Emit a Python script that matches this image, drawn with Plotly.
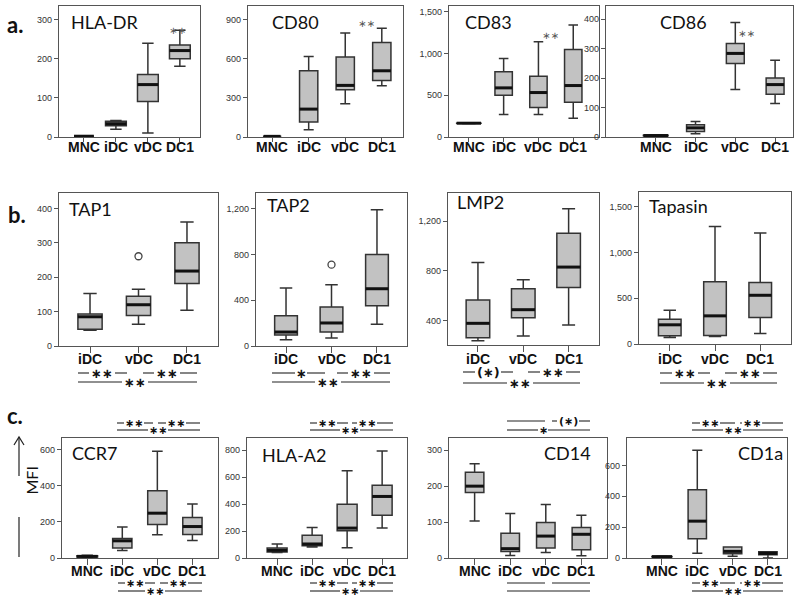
import plotly.graph_objects as go

# ---------------- data ----------------
CATS_4 = ["MNC", "iDC", "vDC", "DC1"]
CATS_3 = ["iDC", "vDC", "DC1"]
PANEL_NAMES = ["HLA-DR", "CD80", "CD83", "CD86",
               "TAP1", "TAP2", "LMP2", "Tapasin",
               "CCR7", "HLA-A2", "CD14", "CD1a"]

# each row: [lower whisker, Q1, median, Q3, upper whisker] per category
HLA_DR = [[1, 2, 2, 2, 3], [20, 29, 34, 40, 42], [10, 91, 134, 160, 240], [181, 200, 221, 235, 273]]
CD80 = [[3, 4, 5, 6, 7], [56, 115, 214, 508, 618], [255, 362, 396, 613, 797], [393, 434, 508, 725, 835]]
CD83 = [[163, 164, 165, 166, 167], [268, 500, 588, 780, 940], [268, 352, 532, 728, 1140], [224, 416, 616, 1048, 1340]]
CD86 = [[3, 4, 5, 6, 7], [11, 19, 31, 42, 53], [161, 250, 284, 318, 389], [114, 145, 178, 200, 261]]
TAP1 = [[46, 49, 85, 93, 153], [63, 89, 120, 145, 165], [104, 182, 218, 300, 361]]
TAP2 = [[55, 96, 122, 265, 506], [70, 122, 201, 340, 535], [189, 352, 500, 800, 1190]]
LMP2 = [[236, 260, 376, 564, 867], [274, 421, 486, 655, 728], [362, 666, 830, 1103, 1300]]
TAPASIN = [[72, 91, 210, 272, 370], [83, 94, 308, 681, 1286], [116, 290, 533, 674, 1214]]
CCR7 = [[2, 6, 9, 12, 15], [42, 55, 95, 108, 171], [128, 185, 248, 372, 591], [97, 130, 174, 224, 299]]
HLA_A2 = [[40, 44, 57, 74, 104], [81, 91, 104, 168, 227], [77, 202, 222, 400, 647], [222, 318, 457, 541, 795]]
CD14 = [[103, 182, 200, 239, 262], [7, 18, 26, 69, 124], [15, 28, 61, 99, 149], [6, 23, 66, 85, 119]]
CD1A = [[5, 8, 9, 10, 12], [30, 125, 239, 443, 699], [11, 28, 43, 71, 71], [0, 21, 30, 41, 41]]

TAP1_OUTLIERS = [None, 261, None]
TAP2_OUTLIERS = [None, 710, None]

STATS = [HLA_DR, CD80, CD83, CD86, TAP1, TAP2, LMP2, TAPASIN, CCR7, HLA_A2, CD14, CD1A]
CATS = [CATS_4] * 4 + [CATS_3] * 4 + [CATS_4] * 4
OUTLIERS = {4: TAP1_OUTLIERS, 5: TAP2_OUTLIERS}

# ---------------- layout / style ----------------
W, H = 800, 602


def px(x):
    return x / W


def py(y):
    return 1 - y / H


GEOM = [(59, 200, 6, 137), (248, 403, 6, 137), (449, 599, 6, 137), (606, 793, 6, 137),
        (59, 218, 193, 346), (256, 407, 193, 346), (448, 599, 193, 345), (639, 791, 192, 344),
        (62, 218, 438, 558), (247, 407, 438, 558), (449, 607, 438, 558), (627, 787, 438, 558)]
XRANGES = [(-0.78, 3.63), (-0.66, 3.58), (-0.57, 3.74), (-1.25, 3.45),
           (-0.64, 2.64), (-0.66, 2.66), (-0.66, 2.67), (-0.68, 2.68),
           (-0.72, 3.73), (-0.86, 3.71), (-0.72, 3.72), (-0.99, 3.54)]
YRANGES = [(0, 335), (0, 1005), (0, 1568), (0, 445),
           (0, 445), (0, 1336), (201, 1428), (0, 1663),
           (0, 664), (0, 891), (0, 334), (0, 778)]
DTICKS = [100, 300, 500, 100, 100, 400, 400, 500, 200, 200, 100, 200]
BOXW = [0.65, 0.5, 0.5, 0.45, 0.5, 0.5, 0.52, 0.5, 0.55, 0.57, 0.52, 0.52]
MNCW = [0.62, 0.46, 0.7, 0.62, None, None, None, None, 0.59, None, None, 0.57]
XTICKLEN = [4] * 4 + [6] * 8
LABEL_Y = [147] * 4 + [359] * 4 + [571] * 4
TITLE_POS = [(69, 22, "left"), (270, 22, "left"), (463, 22, "left"), (658, 22, "left"),
             (67, 209, "left"), (265, 205, "left"), (455, 202, "left"), (647, 206, "left"),
             (70, 453, "left"), (260, 455, "left"), (593, 453, "right"), (785, 453, "right")]

FRAME = "#555555"
BOXLINE = "#333333"
FILL = "#c2c2c2"
TITLE_FONT = dict(family="Lato", size=18, color="#111111")
CAT_FONT = dict(family="Liberation Sans", size=14, color="#111111", weight="bold")
STAR = "DejaVu Sans"

fig = go.Figure()
layout = dict(width=W, height=H, margin=dict(l=0, r=0, t=0, b=0),
              paper_bgcolor="white", plot_bgcolor="white", showlegend=False)
annotations = []
shapes = []

for k in range(12):
    n = k + 1
    xa, ya = ("x%d" % n if n > 1 else "x"), ("y%d" % n if n > 1 else "y")
    x0, x1, y0, y1 = GEOM[k]
    cats = CATS[k]
    idx = list(range(len(cats)))
    layout["xaxis%d" % n if n > 1 else "xaxis"] = dict(
        domain=[px(x0), px(x1)], anchor=ya, range=list(XRANGES[k]),
        tickvals=idx, ticktext=cats, showticklabels=False, showgrid=False, zeroline=False,
        showline=True, mirror=True, linecolor=FRAME, linewidth=1.3,
        ticks="outside", ticklen=XTICKLEN[k], tickcolor=FRAME, tickwidth=1,
        automargin=False, fixedrange=True)
    layout["yaxis%d" % n if n > 1 else "yaxis"] = dict(
        domain=[py(y1), py(y0)], anchor=xa, range=list(YRANGES[k]),
        tick0=0, dtick=DTICKS[k], tickformat=",", showgrid=False, zeroline=False,
        showline=True, mirror=True, linecolor=FRAME, linewidth=1.3,
        ticks="outside", ticklen=4, tickcolor=FRAME, tickwidth=1,
        tickfont=dict(family="Liberation Sans", size=9, color="#333333"),
        automargin=False, fixedrange=True)

    # category labels placed close under the frame, at the category positions
    for i, c in enumerate(cats):
        annotations.append(dict(text=c, x=i, xref=xa, y=py(LABEL_Y[k]), yref="paper",
                                xanchor="center", yanchor="middle", showarrow=False,
                                font=CAT_FONT))

    mx, my = [], []
    for i, c in enumerate(cats):
        lo, q1, med, q3, hi = STATS[k][i]
        w = BOXW[k]
        if c == "MNC" and MNCW[k] is not None:
            w = MNCW[k]
        fig.add_trace(go.Box(
            x=[i], lowerfence=[lo], q1=[q1], median=[med], q3=[q3], upperfence=[hi],
            width=w, whiskerwidth=0.55, fillcolor=FILL,
            line=dict(color=BOXLINE, width=1.5), xaxis=xa, yaxis=ya,
            boxpoints=False, hoverinfo="skip"))
        mx += [i - w / 2, i + w / 2, None]
        my += [med, med, None]
    fig.add_trace(go.Scatter(x=mx, y=my, mode="lines", line=dict(color="#111111", width=3),
                             xaxis=xa, yaxis=ya, hoverinfo="skip"))
    if k in OUTLIERS:
        ox = [i for i, v in enumerate(OUTLIERS[k]) if v is not None]
        oy = [v for v in OUTLIERS[k] if v is not None]
        fig.add_trace(go.Scatter(x=ox, y=oy, mode="markers",
                                 marker=dict(symbol="circle-open", size=7,
                                             color="#444444", line=dict(width=1.3)),
                                 xaxis=xa, yaxis=ya, hoverinfo="skip"))

    tx, ty, anc = TITLE_POS[k]
    annotations.append(dict(text=PANEL_NAMES[k], x=px(tx), y=py(ty), xref="paper", yref="paper",
                            xanchor=anc, yanchor="middle", showarrow=False, font=TITLE_FONT))

# row a significance marks
for (x, y) in [(167, 23), (366, 16), (561, 28), (757, 26)]:
    annotations.append(dict(text="∗∗", x=px(x), y=py(y), xref="paper", yref="paper",
                            showarrow=False, font=dict(family=STAR, size=10, color="#555555")))

# section labels
for lab, (x, y) in [("a.", (5, 24)), ("b.", (6, 214)), ("c.", (5, 415))]:
    annotations.append(dict(text=lab, x=px(x), y=py(y), xref="paper", yref="paper",
                            xanchor="left", yanchor="middle", showarrow=False,
                            font=dict(family="Lato", size=22, color="#111111", weight="bold")))


def seg(xa_, xb_, y, color="#222222"):
    shapes.append(dict(type="line", xref="paper", yref="paper",
                       x0=px(xa_), x1=px(xb_), y0=py(y), y1=py(y),
                       line=dict(color=color, width=1.1)))


def bracket(xa_, xb_, y, label=None, xc=None, half=0, size=16):
    if label is None:
        seg(xa_, xb_, y)
        return
    seg(xa_, xc - half, y)
    seg(xc + half, xb_, y)
    annotations.append(dict(text=label, x=px(xc), y=py(y), xref="paper", yref="paper",
                            xanchor="center", yanchor="middle", showarrow=False,
                            font=dict(family=STAR, size=size, color="#111111", weight="bold")))


SS, S1, SP = "∗∗", "∗", "(∗)"
# row b
for b in [(78, 127, 373, SS, 102, 13), (143, 197, 373, SS, 167, 13), (78, 197, 382, SS, 135, 13),
          (272, 325, 373, S1, 301, 6), (337, 390, 373, SS, 361, 13), (272, 390, 382, SS, 328, 13),
          (463, 513, 372, SP, 488, 13), (528, 580, 372, SS, 553, 13), (463, 580, 383, SS, 520, 13),
          (660, 710, 373, SS, 685, 13), (725, 777, 373, SS, 750, 13), (660, 777, 383, SS, 717, 13)]:
    bracket(*b, size=13)
# row c
for b in [(117, 153, 423, SS, 134, 10), (158, 200, 423, SS, 176, 10), (117, 200, 430, SS, 158, 10),
          (118, 155, 583, SS, 135, 10), (160, 202, 583, SS, 178, 10), (118, 202, 591, SS, 155, 10),
          (310, 348, 423, SS, 327, 10), (352, 393, 423, SS, 367, 10), (310, 393, 430, SS, 350, 10),
          (310, 348, 583, SS, 327, 10), (352, 393, 583, SS, 367, 10), (310, 393, 591, SS, 350, 10),
          (552, 590, 421, SP, 568, 11), (507, 590, 430, S1, 543, 5),
          (692, 735, 423, SS, 710, 10), (740, 783, 423, SS, 752, 10), (692, 783, 430, SS, 733, 10),
          (692, 735, 583, SS, 710, 10), (740, 783, 583, SS, 752, 10), (692, 783, 591, SS, 733, 10)]:
    bracket(*b, size=11)
for b in [(507, 545, 421), (507, 545, 583), (552, 590, 583), (507, 590, 591)]:
    bracket(*b)

# MFI axis label with arrow
seg_color = "#222222"
shapes.append(dict(type="line", xref="paper", yref="paper", x0=px(19), x1=px(19),
                   y0=py(557), y1=py(517), line=dict(color=seg_color, width=1.2)))
shapes.append(dict(type="line", xref="paper", yref="paper", x0=px(19), x1=px(19),
                   y0=py(476), y1=py(437), line=dict(color=seg_color, width=1.2)))
shapes.append(dict(type="path", xref="paper", yref="paper",
                   path="M %f,%f L %f,%f L %f,%f" % (px(14), py(445), px(19), py(437), px(24), py(445)),
                   line=dict(color=seg_color, width=1.2)))
annotations.append(dict(text="MFI", x=px(19), y=py(497), xref="paper", yref="paper",
                        textangle=-90, showarrow=False,
                        font=dict(family="Lato", size=16, color="#111111")))

layout["annotations"] = annotations
layout["shapes"] = shapes
fig.update_layout(**layout)
fig.write_html("out.html", config={"displayModeBar": False},
               post_script="document.body.style.margin='0px';document.body.style.overflow='hidden';")
